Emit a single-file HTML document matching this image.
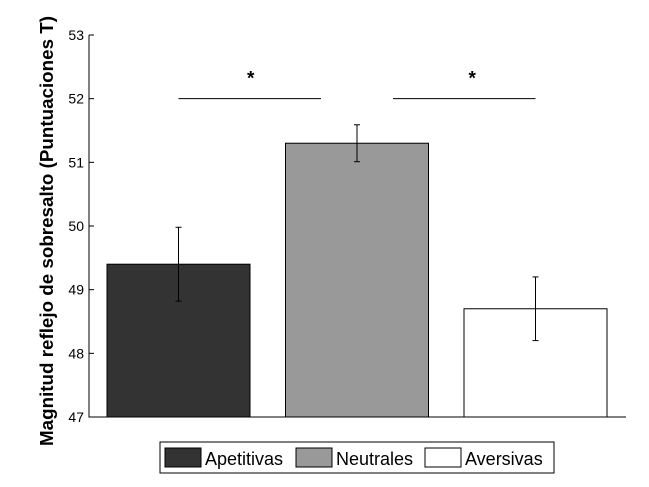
<!DOCTYPE html>
<html><head><meta charset="utf-8"><style>
body{margin:0;background:#fff}
svg{display:block;font-family:"Liberation Sans",Arial,sans-serif}
</style></head><body>
<svg id="c" width="649" height="487"></svg>
<script>
const categories=["Apetitivas","Neutrales","Aversivas"];
const values=[49.4,51.3,48.7];
const errors=[0.58,0.29,0.5];
const colors=["#333333","#999999","#ffffff"];
const yTicks=[47,48,49,50,51,52,53];
const sigPairs=[[0,1],[1,2]];
const sigLevel=52.0;
const NS="http://www.w3.org/2000/svg";
const svg=document.getElementById('c');
const x0=89,x1=626,yTop=35,yBot=417,yMin=47,yMax=53;
const y=v=>yBot-(v-yMin)/(yMax-yMin)*(yBot-yTop);
const slot=178.5,bw=143;
const xc=i=>107+bw/2+i*slot;
function el(t,a,txt){const e=document.createElementNS(NS,t);for(const k in a)e.setAttribute(k,a[k]);if(txt!=null)e.textContent=txt;svg.appendChild(e);return e;}
categories.forEach((c,i)=>{
 const b=el('rect',{x:xc(i)-bw/2,y:y(values[i]),width:bw,height:yBot-y(values[i]),fill:colors[i],stroke:'#000','stroke-width':1});
 
 
 const e=el('g',{stroke:'#000','stroke-width':1});
 
 
 const t=y(values[i]+errors[i]),bo=y(values[i]-errors[i]),cx=xc(i);
 [[cx,t,cx,bo],[cx-3,t,cx+3,t],[cx-3,bo,cx+3,bo]].forEach(l=>{const L=document.createElementNS(NS,'line');L.setAttribute('x1',l[0]);L.setAttribute('y1',l[1]);L.setAttribute('x2',l[2]);L.setAttribute('y2',l[3]);e.appendChild(L);});
});
sigPairs.forEach((p,k)=>{
 const a=k===0?xc(p[0]):xc(p[0])+36, b=k===0?xc(p[1])-36:xc(p[1]);
 const l=el('line',{x1:a,x2:b,y1:y(sigLevel),y2:y(sigLevel),stroke:'#000','stroke-width':1});
 
 
 const s=el('text',{x:(a+b)/2+(k===0?1:8),y:y(sigLevel)-14,'text-anchor':'middle','font-size':19,'font-weight':'bold'},'*');
 
 
});
const ax=el('path',{d:`M${x0} ${yTop}V${yBot}H${x1}`,fill:'none',stroke:'#000','stroke-width':1});


yTicks.forEach(v=>{
 const tk=el('line',{x1:x0,x2:x0+5,y1:y(v),y2:y(v),stroke:'#000'});
 
 
 const t=el('text',{x:x0-5,y:y(v)+5,'text-anchor':'end','font-size':14},v);
 
 
});
const yt=el('text',{transform:'translate(53,231) rotate(-90)','text-anchor':'middle','font-size':18.8,'font-weight':'bold'},'Magnitud reflejo de sobresalto (Puntuaciones T)');


const lg=el('rect',{x:160,y:442,width:394,height:31,fill:'#fff',stroke:'#000','stroke-width':1});


const lx=[165,296,425];
categories.forEach((c,i)=>{
 const s=el('rect',{x:lx[i],y:448,width:36,height:19,fill:colors[i],stroke:'#000'});
 
 
 const t=el('text',{x:lx[i]+40,y:465,'font-size':18},c);
 
 
});
</script>
</body></html>
